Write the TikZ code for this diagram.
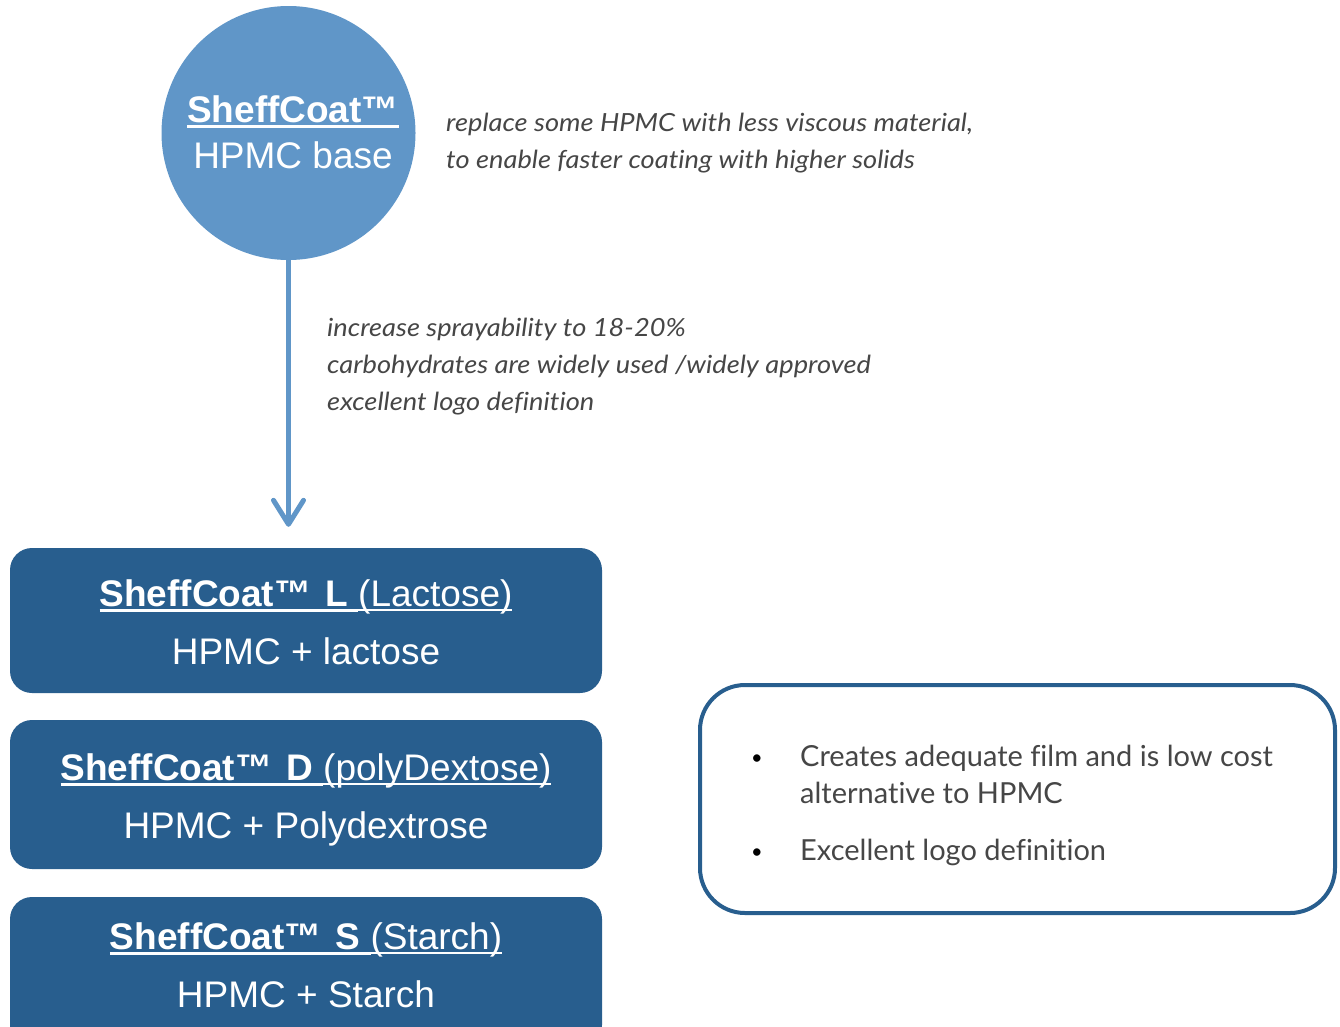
\documentclass[tikz,border=0pt]{standalone}
\usepackage{fontspec}
\setmainfont{Liberation Sans}
\newfontfamily\annotfont[FakeStretch=1.09, Ligatures=NoCommon]{Lato}
\newfontfamily\notefont[Ligatures=NoCommon]{Lato}
\usetikzlibrary{arrows.meta}
\definecolor{lightblue}{RGB}{96,150,200}
\definecolor{darkblue}{RGB}{40,94,142}
\definecolor{txtgray}{RGB}{70,70,70}
\newsavebox\ulbox
\newcommand\ulb[1]{\sbox\ulbox{#1}\rlap{\rule[-5.5pt]{\wd\ulbox}{3pt}}\usebox\ulbox}
\newcommand\ulr[1]{\sbox\ulbox{#1}\rlap{\rule[-5pt]{\wd\ulbox}{2pt}}\usebox\ulbox}
\tikzset{
  bigtxt/.style={inner sep=0pt, anchor=base, text=white, font=\fontsize{37}{40}\selectfont},
  prodbox/.style={rectangle, rounded corners=22pt, fill=darkblue, minimum width=592pt, inner sep=0pt},
  annot/.style={inner sep=0pt, anchor=base west, text=txtgray, font=\annotfont\itshape\fontsize{25}{28}\selectfont},
  notetxt/.style={inner sep=0pt, anchor=base west, text=txtgray, font=\notefont\fontsize{29}{32}\selectfont},
  bullettxt/.style={inner sep=0pt, anchor=base, text=black, font=\notefont\fontsize{20}{22}\selectfont},
}
\begin{document}
\begin{tikzpicture}[x=1pt,y=-1pt]
\useasboundingbox (0,0) rectangle (1340,1026);
\clip (0,0) rectangle (1340,1026);
% base circle
\node[circle, fill=lightblue, minimum size=254pt, inner sep=0pt] (base) at (288.5,133) {};
\node[bigtxt] (baseT1) at (293,122) {\ulb{\bfseries SheffCoat™}};
\node[bigtxt] (baseT2) at (293,168) {HPMC base};
% annotations
\node[annot] (an1) at (446,131) {replace some HPMC with less viscous material,};
\node[annot] (an2) at (446,168) {to enable faster coating with higher solids};
\node[annot] (an3) at (327,336) {increase sprayability to 18-20\%};
\node[annot] (an4) at (327,373) {carbohydrates are widely used /widely approved};
\node[annot] (an5) at (327,410) {excellent logo definition};
% product boxes
\node[prodbox, minimum height=145pt] (boxL) at (306,620.5) {};
\node[prodbox, minimum height=149pt] (boxD) at (306,794.5) {};
\node[prodbox, minimum height=150pt] (boxS) at (306,972) {};
\node[bigtxt] (L1) at (306,606) {\ulb{\bfseries SheffCoat™\hspace{14pt}L }\ulr{(Lactose)}};
\node[bigtxt] (L2) at (306,664) {HPMC + lactose};
\node[bigtxt] (D1) at (306,780) {\ulb{\bfseries SheffCoat™\hspace{14pt}D }\ulr{(polyDextose)}};
\node[bigtxt] (D2) at (306,838) {HPMC + Polydextrose};
\node[bigtxt] (S1) at (306,949) {\ulb{\bfseries SheffCoat™\hspace{14pt}S }\ulr{(Starch)}};
\node[bigtxt] (S2) at (306,1007) {HPMC + Starch};
% arrow
\draw[lightblue, line width=5pt, shorten >=21pt,
  -{Straight Barb[length=24pt,width=30pt,line cap=round,line join=round]}]
  (base.south) -- (base.south |- boxL.north);
% note box
\node[rectangle, draw=darkblue, line width=4pt, rounded corners=45pt,
  minimum width=635pt, minimum height=228pt] (note) at (1017.5,799) {};
\node[bullettxt] (b1) at (757,764) {•};
\node[notetxt] (n1) at (800,766) {Creates adequate film and is low cost};
\node[notetxt] (n2) at (800,803) {alternative to HPMC};
\node[bullettxt] (b2) at (757,858) {•};
\node[notetxt] (n3) at (800,860) {Excellent logo definition};
\end{tikzpicture}
\end{document}
